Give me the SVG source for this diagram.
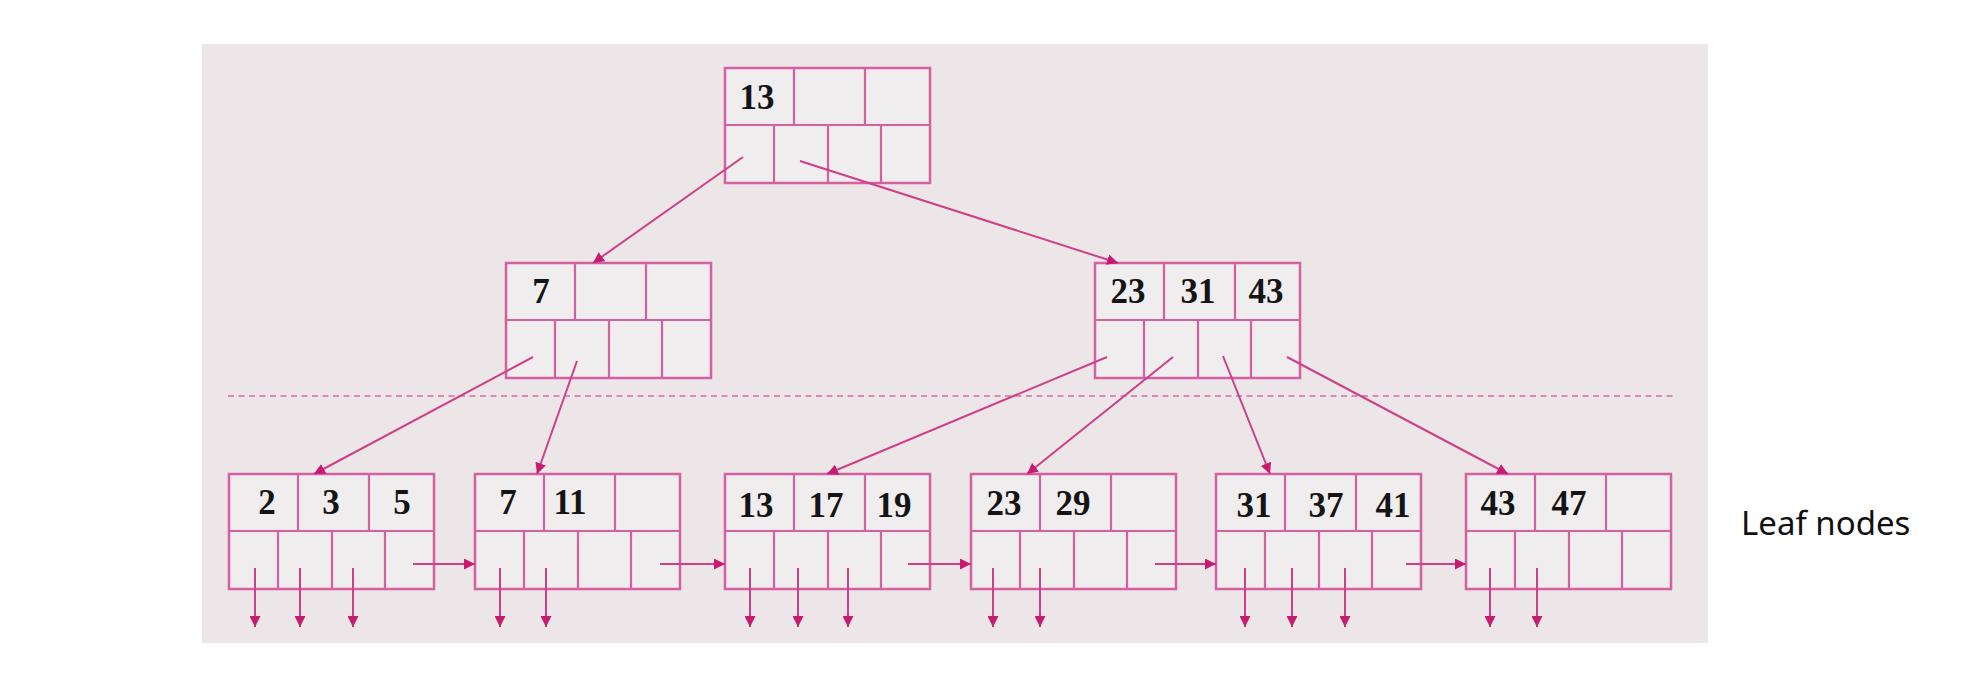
<svg xmlns="http://www.w3.org/2000/svg" width="1988" height="678" viewBox="0 0 1988 678">
<style>
.bx{fill:#f0edef;stroke:#d460a0;stroke-width:2.5}
.dv{stroke:#d460a0;stroke-width:2.2;fill:none}
.k{font-family:"Liberation Serif","Times New Roman",serif;font-weight:bold;font-size:35px;fill:#141414;text-anchor:middle}
.c{stroke:#cf3f88;stroke-width:2;fill:none;marker-end:url(#ah)}
.lbl{font-family:"Noto Sans","Liberation Sans",Arial,sans-serif;font-size:33px;fill:#111}
</style>
<defs>
<marker id="ah" viewBox="0 0 10 10" refX="10" refY="5" markerWidth="11" markerHeight="11" markerUnits="userSpaceOnUse" orient="auto">
<path d="M0,0 L10,5 L0,10 z" fill="#c81a70"/>
</marker>
<g id="nb">
<rect class="bx" x="0" y="0" width="205" height="115"/>
<path class="dv" d="M0,57H205M69,0V57M140,0V57M49,57V115M103,57V115M156,57V115"/>
</g>
</defs>
<rect x="202" y="44" width="1506" height="599" fill="#ece6e9"/>
<line x1="228" y1="396" x2="1675" y2="396" stroke="#d96aa8" stroke-width="1.6" stroke-dasharray="6,4.5"/>

<g id="root">
<use href="#nb" x="725" y="68"/>
<text class="k" x="757" y="109">13</text>
</g>
<g id="inner-left">
<use href="#nb" x="506" y="263"/>
<text class="k" x="541" y="303">7</text>
</g>
<g id="inner-right">
<use href="#nb" x="1095" y="263"/>
<text class="k" x="1128" y="303">23</text>
<text class="k" x="1198" y="303">31</text>
<text class="k" x="1266" y="303">43</text>
</g>
<g id="leaf1">
<use href="#nb" x="229" y="474"/>
<text class="k" x="267" y="514">2</text>
<text class="k" x="331" y="514">3</text>
<text class="k" x="402" y="514">5</text>
</g>
<g id="leaf2">
<use href="#nb" x="475" y="474"/>
<text class="k" x="508" y="514">7</text>
<text class="k" x="570" y="514">11</text>
</g>
<g id="leaf3">
<use href="#nb" x="725" y="474"/>
<text class="k" x="756" y="517">13</text>
<text class="k" x="826" y="517">17</text>
<text class="k" x="894" y="517">19</text>
</g>
<g id="leaf4">
<use href="#nb" x="971" y="474"/>
<text class="k" x="1004" y="515">23</text>
<text class="k" x="1073" y="515">29</text>
</g>
<g id="leaf5">
<use href="#nb" x="1216" y="474"/>
<text class="k" x="1254" y="517">31</text>
<text class="k" x="1326" y="517">37</text>
<text class="k" x="1393" y="517">41</text>
</g>
<g id="leaf6">
<use href="#nb" x="1466" y="474"/>
<text class="k" x="1498" y="515">43</text>
<text class="k" x="1569" y="515">47</text>
</g>

<g id="connectors">
<line class="c" x1="743" y1="157" x2="593" y2="263"/>
<line class="c" x1="800" y1="161" x2="1118" y2="263"/>
<line class="c" x1="533" y1="357" x2="314" y2="474"/>
<line class="c" x1="577" y1="361" x2="537" y2="474"/>
<line class="c" x1="1107" y1="357" x2="827" y2="474"/>
<line class="c" x1="1173" y1="357" x2="1027" y2="474"/>
<line class="c" x1="1223" y1="356" x2="1270" y2="474"/>
<line class="c" x1="1287" y1="357" x2="1508" y2="474"/>
<line class="c" x1="413" y1="564" x2="475" y2="564"/>
<line class="c" x1="660" y1="564" x2="725" y2="564"/>
<line class="c" x1="908" y1="564" x2="971" y2="564"/>
<line class="c" x1="1155" y1="564" x2="1216" y2="564"/>
<line class="c" x1="1406" y1="564" x2="1466" y2="564"/>
<line class="c" x1="255" y1="568" x2="255" y2="627"/>
<line class="c" x1="300" y1="568" x2="300" y2="627"/>
<line class="c" x1="353" y1="568" x2="353" y2="627"/>
<line class="c" x1="500" y1="568" x2="500" y2="627"/>
<line class="c" x1="546" y1="568" x2="546" y2="627"/>
<line class="c" x1="750" y1="568" x2="750" y2="627"/>
<line class="c" x1="798" y1="568" x2="798" y2="627"/>
<line class="c" x1="848" y1="568" x2="848" y2="627"/>
<line class="c" x1="993" y1="568" x2="993" y2="627"/>
<line class="c" x1="1040" y1="568" x2="1040" y2="627"/>
<line class="c" x1="1245" y1="568" x2="1245" y2="627"/>
<line class="c" x1="1292" y1="568" x2="1292" y2="627"/>
<line class="c" x1="1345" y1="568" x2="1345" y2="627"/>
<line class="c" x1="1490" y1="568" x2="1490" y2="627"/>
<line class="c" x1="1537" y1="568" x2="1537" y2="627"/>
</g>
<text class="lbl" x="1741" y="535">Leaf nodes</text>
</svg>
